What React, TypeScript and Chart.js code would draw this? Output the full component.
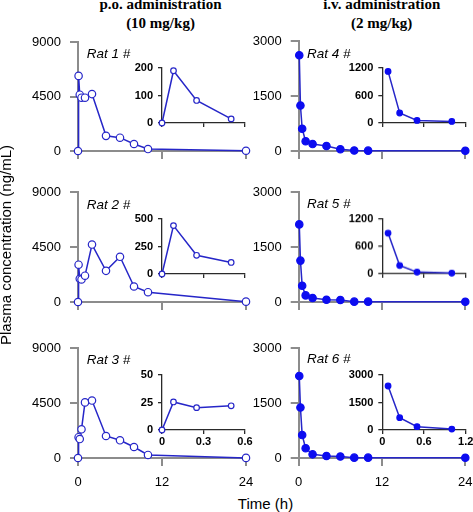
import React, { useEffect, useRef } from 'react';
import { Chart, registerables } from 'chart.js';
Chart.register(...registerables);

// ---- data ----
const poTimes = [0, 0.083, 0.25, 0.5, 1, 2, 4, 6, 8, 10, 24];
const ivTimes = [0.083, 0.25, 0.5, 1, 2, 4, 6, 8, 10, 24];
const poInsetTimes = [0, 0.083, 0.25, 0.5];
const ivInsetTimes = [0.083, 0.25, 0.5, 1];

const rat1 = [0, 6200, 4650, 4400, 4400, 4700, 1250, 1100, 580, 160, 20];
const rat2 = [0, 3050, 1900, 1850, 2150, 4700, 2550, 3700, 1270, 800, 30];
const rat3 = [0, 1700, 1550, 2350, 4550, 4700, 1800, 1450, 900, 250, 10];
const rat4 = [2610, 1240, 607, 264, 190, 136, 46, 12, 10, 5];
const rat5 = [2116, 1129, 442, 180, 108, 62, 55, 10, 10, 5];
const rat6 = [2238, 1379, 626, 264, 100, 54, 40, 10, 10, 5];

const rat1Inset = [0, 190, 82, 15];
const rat2Inset = [0, 440, 170, 105];
const rat3Inset = [0, 25.5, 20.3, 22];
const rat4Inset = [1126, 218, 57, 35];
const rat5Inset = [893, 182, 37, 15];
const rat6Inset = [2400, 671, 182, 50];

const mainXTicks = [0, 12, 24];
const poYTicks = [0, 4500, 9000];
const ivYTicks = [0, 1500, 3000];
const poInsetXTicks = [0, 0.3, 0.6];
const ivInsetXTicks = [0, 0.6, 1.2];
const rat1InsetYTicks = [0, 100, 200];
const rat2InsetYTicks = [0, 250, 500];
const rat3InsetYTicks = [0, 25, 50];
const rat4InsetYTicks = [0, 600, 1200];
const rat5InsetYTicks = [0, 600, 1200];
const rat6InsetYTicks = [0, 1500, 3000];

const ratLabels = ['Rat 1 #', 'Rat 2 #', 'Rat 3 #', 'Rat 4 #', 'Rat 5 #', 'Rat 6 #'];
const colTitles = [['p.o. administration', '(10 mg/kg)'], ['i.v. administration', '(2 mg/kg)']];
const yTitle = 'Plasma concentration (ng/mL)';
const xTitle = 'Time (h)';

const SANS = '"Liberation Sans", Arial, Helvetica, sans-serif';
const SERIF = '"Liberation Serif", "Times New Roman", serif';

type Spec = {
  left: number; top: number; width: number; height: number;
  plotLeft: number; plotRight: number; plotTop: number; plotBottom: number;
  xAxisH: number;
  xs: number[]; ys: number[]; xTicks: number[]; yTicks: number[];
  showX: boolean; filled: boolean; inset: boolean;
};

const fmt = (v: any) => String(Math.round(Number(v) * 100) / 100);

function Plot({ s }: { s: Spec }) {
  const ref = useRef<HTMLCanvasElement>(null);
  useEffect(() => {
    const canvas = ref.current!;
    const axisColor = s.inset ? '#2a2a2a' : '#8c8c8c';
    const axisW = s.inset ? 1.3 : 2;
    const font: any = s.inset
      ? { family: SANS, size: 11, weight: 'bold' }
      : { family: SANS, size: 13 };
    const yW = s.plotLeft - s.left;
    const padR = s.left + s.width - s.plotRight;
    const padT = s.plotTop - s.top;
    const padB = s.top + s.height - s.plotBottom - s.xAxisH;
    const lineColor = '#2626c8';
    const markColor = '#0c0cf0';
    const chart = new Chart(canvas, {
      type: 'line',
      data: {
        datasets: [{
          data: s.xs.map((x, i) => ({ x, y: s.ys[i] })),
          borderColor: lineColor,
          borderWidth: 1.5,
          pointRadius: s.inset ? 2.8 : 3.7,
          pointBackgroundColor: s.filled ? markColor : '#ffffff',
          pointBorderColor: s.filled ? markColor : lineColor,
          pointBorderWidth: 1.2,
          clip: false as any,
          tension: 0,
        } as any],
      },
      options: {
        responsive: false,
        animation: false,
        events: [],
        layout: { padding: { left: 0, right: padR, top: padT, bottom: padB } },
        plugins: { legend: { display: false }, tooltip: { enabled: false } },
        scales: {
          x: {
            type: 'linear',
            min: s.xTicks[0],
            max: s.xTicks[s.xTicks.length - 1],
            afterBuildTicks: (a: any) => { a.ticks = s.xTicks.map((v) => ({ value: v })); },
            ticks: {
              callback: (v: any) => (s.showX ? fmt(v) : ''),
              font, color: '#000', padding: s.inset ? 1 : 9, maxRotation: 0, autoSkip: false,
            },
            grid: {
              display: true, drawOnChartArea: false, drawTicks: true,
              tickLength: s.inset ? 4 : 8, color: axisColor, lineWidth: axisW,
            },
            border: { display: true, color: axisColor, width: axisW },
            afterFit: (a: any) => { a.height = s.xAxisH; a.paddingLeft = 0; a.paddingRight = 0; },
          },
          y: {
            type: 'linear',
            min: s.yTicks[0],
            max: s.yTicks[s.yTicks.length - 1],
            afterBuildTicks: (a: any) => { a.ticks = s.yTicks.map((v) => ({ value: v })); },
            ticks: {
              callback: (v: any) => fmt(v),
              font, color: '#000', padding: s.inset ? 5 : 9, autoSkip: false,
            },
            grid: {
              display: true, drawOnChartArea: false, drawTicks: true,
              tickLength: s.inset ? 4 : 8, color: axisColor, lineWidth: axisW,
            },
            border: { display: true, color: axisColor, width: axisW },
            afterFit: (a: any) => { a.width = yW; a.paddingTop = 0; a.paddingBottom = 0; },
          },
        },
      } as any,
    });
    return () => chart.destroy();
  }, []);
  return (
    <canvas
      ref={ref}
      width={s.width}
      height={s.height}
      style={{ position: 'absolute', left: s.left, top: s.top, width: s.width, height: s.height }}
    />
  );
}

const mainSeries = [rat1, rat2, rat3, rat4, rat5, rat6];
const insetSeries = [rat1Inset, rat2Inset, rat3Inset, rat4Inset, rat5Inset, rat6Inset];
const insetYTicks = [rat1InsetYTicks, rat2InsetYTicks, rat3InsetYTicks, rat4InsetYTicks, rat5InsetYTicks, rat6InsetYTicks];

// layout (pixel geometry)
const mainTops = [[42, 192, 348], [40.7, 191.7, 347.7]];
const mainBottoms = [[151, 302, 458], [151, 302.3, 458]];
const insetTops = [[68, 219, 375], [68.3, 219.3, 375]];
const insetBottoms = [[123, 274, 430], [123.3, 274, 430]];

function buildSpecs(): Spec[] {
  const specs: Spec[] = [];
  for (let col = 0; col < 2; col++) {
    for (let row = 0; row < 3; row++) {
      const idx = col * 3 + row;
      const top = mainTops[col][row];
      const bottom = mainBottoms[col][row];
      const mx = col === 0 ? 0 : 236;
      const mw = col === 0 ? 262 : 237;
      specs.push({
        left: mx, top: top - 14, width: mw, height: bottom - top + 14 + 32,
        plotLeft: col === 0 ? 78 : 298.7, plotRight: col === 0 ? 246 : 465.3,
        plotTop: top, plotBottom: bottom, xAxisH: 30,
        xs: col === 0 ? poTimes : ivTimes, ys: mainSeries[idx],
        xTicks: mainXTicks, yTicks: col === 0 ? poYTicks : ivYTicks,
        showX: row === 2, filled: col === 1, inset: false,
      });
    }
  }
  for (let col = 0; col < 2; col++) {
    for (let row = 0; row < 3; row++) {
      const idx = col * 3 + row;
      const top = insetTops[col][row];
      const bottom = insetBottoms[col][row];
      const ix = col === 0 ? 120 : 340;
      const iw = col === 0 ? 140 : 133;
      specs.push({
        left: ix, top: top - 10, width: iw, height: bottom - top + 10 + 22,
        plotLeft: col === 0 ? 162 : 382.3, plotRight: col === 0 ? 245 : 465.7,
        plotTop: top, plotBottom: bottom, xAxisH: 20,
        xs: col === 0 ? poInsetTimes : ivInsetTimes, ys: insetSeries[idx],
        xTicks: col === 0 ? poInsetXTicks : ivInsetXTicks, yTicks: insetYTicks[idx],
        showX: row === 2, filled: col === 1, inset: true,
      });
    }
  }
  return specs;
}

const ratLabelPos = [
  [86.7, 54], [86.7, 204.5], [86.7, 360],
  [307, 54.3], [307, 204.3], [307, 359.3],
];
const titleCenters = [160.5, 381.7];

export default function App() {
  const specs = buildSpecs();
  return (
    <div style={{ position: 'fixed', left: 0, top: 0, width: 473, height: 512, background: '#fff', overflow: 'hidden' }}>
      {colTitles.map((lines, i) => (
        <div key={'t' + i} style={{
          position: 'absolute', left: titleCenters[i] - 120, width: 240, top: -4.6,
          textAlign: 'center', fontFamily: SERIF, fontWeight: 'bold', fontSize: 15, lineHeight: '19px', color: '#000',
        }}>
          {lines[0]}<br />{lines[1]}
        </div>
      ))}
      {specs.map((s, i) => <Plot key={i} s={s} />)}
      {ratLabels.map((t, i) => (
        <div key={'r' + i} style={{
          position: 'absolute', left: ratLabelPos[i][0], top: ratLabelPos[i][1] - 8, height: 16,
          lineHeight: '16px', fontFamily: SANS, fontStyle: 'italic', fontSize: 13.5, color: '#000', whiteSpace: 'nowrap',
        }}>{t}</div>
      ))}
      <div style={{
        position: 'absolute', left: 6 - 130, top: 245 - 9, width: 260, height: 18, lineHeight: '18px',
        textAlign: 'center', fontFamily: SANS, fontSize: 15, color: '#000', transform: 'rotate(-90deg)', whiteSpace: 'nowrap',
      }}>{yTitle}</div>
      <div style={{
        position: 'absolute', left: 265.5 - 60, top: 504 - 9, width: 120, height: 18, lineHeight: '18px',
        textAlign: 'center', fontFamily: SANS, fontSize: 15, color: '#000', whiteSpace: 'nowrap',
      }}>{xTitle}</div>
    </div>
  );
}
